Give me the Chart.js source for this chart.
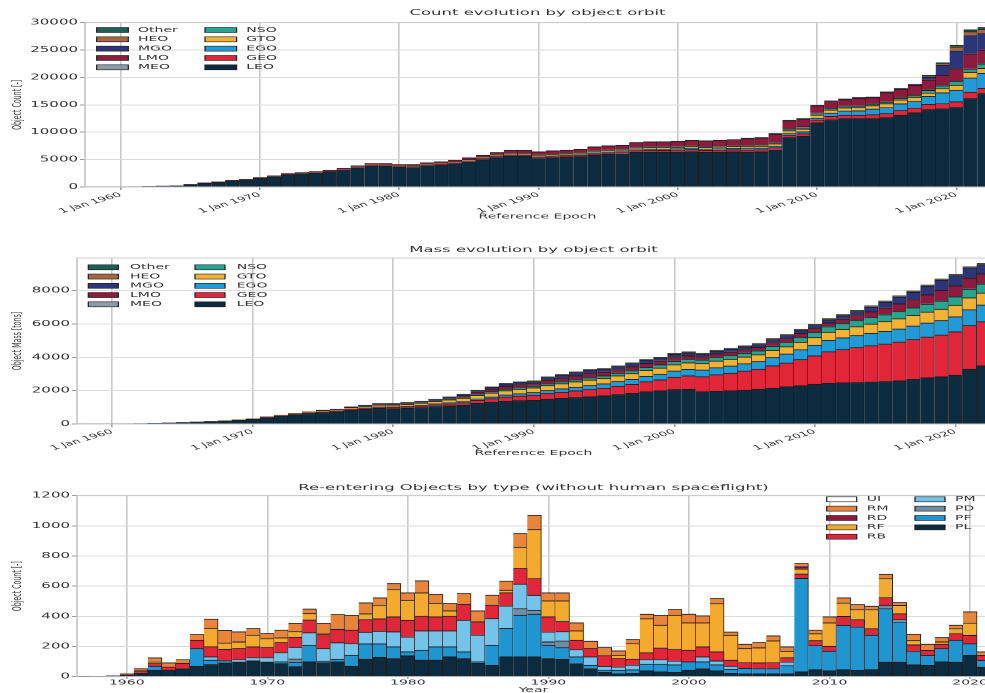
<!DOCTYPE html>
<html>
<head>
<meta charset="utf-8">
<title>Space environment: orbit counts, mass and re-entries</title>
<script src="https://cdn.jsdelivr.net/npm/chart.js@4.4.1/dist/chart.umd.min.js"></script>
<style>
  html, body { margin: 0; padding: 0; background: #ffffff; overflow: hidden; width: 985px; height: 693px; }
  canvas { position: absolute; left: 0; }
</style>
</head>
<body>
<!-- each canvas is drawn at double height and shown at half height -->
<canvas id="countChart" width="1000" height="464" style="top:0px;width:1000px;height:232px"></canvas>
<canvas id="massChart" width="1000" height="464" style="top:232px;width:1000px;height:232px"></canvas>
<canvas id="reentryChart" width="1000" height="480" style="top:464px;width:1000px;height:240px"></canvas>
<script>
// ---------- categories ----------
const orbitYears = [1958,1959,1960,1961,1962,1963,1964,1965,1966,1967,1968,1969,
  1970,1971,1972,1973,1974,1975,1976,1977,1978,1979,
  1980,1981,1982,1983,1984,1985,1986,1987,1988,1989,
  1990,1991,1992,1993,1994,1995,1996,1997,1998,1999,
  2000,2001,2002,2003,2004,2005,2006,2007,2008,2009,
  2010,2011,2012,2013,2014,2015,2016,2017,2018,2019,
  2020,2021,2022];
const reentryYears = [1957,1958,1959,1960,1961,1962,1963,1964,1965,1966,
  1967,1968,1969,1970,1971,1972,1973,1974,1975,1976,
  1977,1978,1979,1980,1981,1982,1983,1984,1985,1986,
  1987,1988,1989,1990,1991,1992,1993,1994,1995,1996,
  1997,1998,1999,2000,2001,2002,2003,2004,2005,2006,
  2007,2008,2009,2010,2011,2012,2013,2014,2015,2016,
  2017,2018,2019,2020,2021];

// ---------- tick labels ----------
const epochTicks = [1960,1970,1980,1990,2000,2010,2020];
const countTicks = [0,5000,10000,15000,20000,25000,30000];
const massTicks = [0,2000,4000,6000,8000];
const reentryTicks = [0,200,400,600,800,1000,1200];

// ---------- object count per orbit class (1958-2022) ----------
const countLEO = [10,20,38,75,130,185,230,455,735,900,1180,1340,
  1620,1900,2290,2440,2600,2800,3130,3510,3880,3850,
  3640,3610,3870,4020,4270,4600,5000,5380,5650,5620,
  5250,5380,5450,5580,5900,6000,6050,6400,6430,6400,
  6430,6520,6350,6400,6450,6400,6450,6800,9070,9310,
  11750,12350,12540,12540,12540,12720,13150,13600,14180,14360,
  14550,16190,17100];
const countGEO = [0,0,0,0,0,0,2,5,10,15,20,25,
  30,35,40,50,60,70,80,90,100,110,
  120,130,140,150,160,170,180,190,200,210,
  220,230,240,250,265,280,295,310,325,340,
  350,360,370,380,390,400,410,430,440,460,
  520,580,600,610,700,730,850,850,950,910,
  1030,1150,950];
const countEGO = [0,0,0,0,0,0,0,0,0,0,0,0,
  0,0,0,0,0,10,15,20,25,30,
  35,40,45,50,55,60,70,80,90,100,
  110,120,130,140,150,160,170,180,190,200,
  210,220,230,240,250,260,270,280,300,330,
  350,600,780,790,1030,1090,1210,1210,1460,1950,
  2130,2610,2730];
const countGTO = [0,0,0,0,0,0,0,0,5,10,15,20,
  25,30,35,40,45,50,60,70,80,90,
  100,110,120,130,140,150,160,170,180,190,
  200,210,220,230,240,250,260,270,280,290,
  300,310,320,330,340,350,360,400,500,520,
  540,560,580,600,610,700,720,780,600,790,
  910,1030,910];
const countNSO = [0,0,0,0,0,0,0,0,0,0,0,0,
  0,0,0,0,0,0,0,0,0,0,
  10,10,15,15,20,20,25,25,30,30,
  35,35,40,40,45,45,50,50,55,55,
  60,60,65,65,70,70,75,80,150,160,
  200,210,220,230,240,260,280,300,480,500,
  680,500,800];
const countMEO = [0,0,0,0,0,0,0,0,0,0,0,0,
  0,0,0,0,0,0,0,0,0,0,
  10,10,15,15,20,20,25,30,35,40,
  40,45,45,50,50,55,55,60,60,65,
  65,70,70,75,75,80,80,90,250,230,
  200,110,110,110,110,110,110,110,110,110,
  110,110,110];
const countLMO = [0,0,2,5,10,15,18,30,40,50,65,75,
  90,105,135,150,155,170,185,210,235,240,
  225,230,235,250,265,340,380,455,575,570,
  595,620,635,650,720,760,790,890,940,950,
  985,1040,1055,1090,1125,1300,1330,1620,1420,1420,
  1300,1250,1150,1370,1100,1650,1550,1750,1770,1830,
  2250,2740,2430];
const countMGO = [0,0,0,0,0,0,0,0,0,0,0,0,
  0,0,0,0,0,0,0,0,0,0,
  0,0,0,0,0,0,0,0,0,0,
  0,0,0,0,0,0,0,0,0,0,
  0,0,0,0,0,40,45,50,50,55,
  60,60,60,60,70,80,90,130,500,1820,
  3220,3350,3040];
const countHEO = [0,0,0,0,0,0,0,0,0,0,0,0,
  0,0,0,0,0,0,0,0,0,0,
  0,0,0,0,0,0,0,0,0,0,
  0,0,0,0,0,0,0,0,0,0,
  0,0,0,0,0,30,30,30,30,35,
  30,30,40,40,40,40,40,50,300,300,
  720,700,750];
const countOther = [0,0,0,0,0,0,0,0,0,0,0,0,
  0,0,0,0,0,0,0,0,0,0,
  0,0,0,0,0,0,0,0,0,0,
  0,0,0,0,0,0,0,0,0,0,
  0,0,0,0,0,20,20,20,20,20,
  20,20,20,20,20,20,20,30,100,130,
  330,350,340];

// ---------- object mass per orbit class in tons (1958-2022) ----------
const massLEO = [2,5,10,20,35,50,68,97,120,155,190,235,
  290,390,480,560,640,700,740,840,900,950,
  930,950,1000,1060,1100,1140,1250,1320,1380,1420,
  1440,1500,1550,1600,1650,1700,1780,1850,1950,2000,
  2080,2100,1950,1970,2000,2040,2100,2150,2250,2300,
  2400,2450,2480,2500,2530,2560,2600,2700,2780,2850,
  2940,3300,3500];
const massGEO = [0,0,0,0,0,0,0,0,0,0,0,0,
  5,10,15,20,25,35,40,50,60,70,
  80,90,100,110,130,150,180,210,250,270,
  300,340,370,400,430,460,500,540,600,660,
  740,800,900,1000,1060,1150,1200,1350,1420,1580,
  1700,1900,2000,2100,2180,2250,2330,2380,2450,2500,
  2600,2620,2650];
const massEGO = [0,0,0,0,0,0,0,0,0,0,0,0,
  0,0,0,0,0,5,10,15,20,25,
  30,35,40,50,60,70,85,100,120,140,
  160,180,200,220,240,260,280,300,320,340,
  370,390,400,420,430,440,460,500,540,590,
  640,680,700,720,740,760,780,810,840,870,
  900,950,1000];
const massGTO = [0,0,0,0,0,0,0,0,5,10,12,15,
  20,25,30,40,50,60,60,80,90,110,
  110,120,130,150,170,200,220,240,260,270,
  280,300,310,320,330,330,340,350,360,370,
  380,390,390,400,410,400,410,430,440,450,
  460,490,510,530,560,590,620,640,660,680,
  700,710,720];
const massNSO = [0,0,0,0,0,0,0,0,0,0,0,0,
  0,0,0,0,0,0,0,0,5,10,
  15,20,25,30,40,50,60,70,80,90,
  100,110,120,130,140,150,160,170,180,190,
  200,205,210,215,220,220,230,240,255,280,
  300,330,350,370,390,410,430,450,470,490,
  500,520,540];
const massMEO = [0,0,0,0,0,0,0,0,0,0,0,0,
  0,0,0,0,0,0,0,0,5,5,
  5,5,5,5,5,5,5,5,5,5,
  10,10,10,10,10,10,10,10,10,10,
  15,15,15,15,15,15,15,15,15,15,
  20,20,20,20,20,20,20,20,20,20,
  20,20,20];
const massLMO = [0,0,0,0,0,0,2,3,5,5,8,10,
  10,10,10,15,20,20,25,25,25,30,
  25,30,30,40,65,95,125,155,180,180,
  150,200,210,230,240,215,215,230,230,225,
  220,205,190,200,200,210,200,220,220,240,
  220,215,245,285,325,385,445,475,545,625,
  640,640,590];
const massMGO = [0,0,0,0,0,0,0,0,0,0,0,0,
  0,0,0,0,0,10,15,20,25,30,
  30,35,35,40,55,75,100,125,150,150,
  125,165,175,195,205,180,180,195,195,190,
  190,180,150,165,170,170,170,180,185,190,
  185,180,200,240,280,340,400,440,510,600,
  615,615,555];
const massHEO = [0,0,0,0,0,0,0,0,0,0,0,0,
  5,5,5,5,5,5,5,5,5,5,
  10,10,10,10,10,10,10,10,10,10,
  20,20,20,20,20,20,20,20,20,20,
  30,30,30,30,30,30,30,30,30,30,
  40,40,40,40,40,40,40,40,40,40,
  40,40,40];
const massOther = [0,0,0,0,0,0,0,0,0,0,0,0,
  0,0,0,0,0,5,5,5,5,5,
  5,5,5,5,5,5,5,5,5,5,
  15,15,15,15,15,15,15,15,15,15,
  25,25,25,25,25,25,25,25,25,25,
  35,35,35,35,35,35,35,35,35,35,
  35,35,35];

// ---------- re-entering objects per type (1957-2021) ----------
const rePL = [2,3,6,12,25,44,44,55,71,82, 90,99,106,99,89,68,100,95,100,71,
  119,130,122,140,111,111,133,122,90,77, 133,133,133,122,116,88,55,30,22,25,
  40,35,30,44,55,40,25,20,20,20, 20,33,48,40,48,44,48,99,99,80, 77,100,99,143,66];
const rePF = [0,0,0,0,0,27,0,0,117,29, 10,0,0,0,11,29,110,10,17,73,
  100,89,77,26,66,88,66,44,10,133, 189,276,283,88,78,45,22,15,22,22,
  45,50,50,56,45,40,26,37,35,35, 55,620,160,130,294,287,228,354,265,88, 66,88,144,77,44];
const rePD = [0,0,0,0,0,0,0,0,0,0, 0,0,0,0,0,22,0,0,0,0,
  0,0,0,0,0,0,0,0,0,0, 0,44,26,22,44,0,0,0,0,0,
  0,0,0,0,0,0,0,0,0,0, 0,0,0,0,0,0,0,22,0,0, 0,0,0,0,0];
const rePM = [0,0,0,0,0,0,0,0,0,22, 10,16,22,29,61,78,83,83,110,77,
  77,84,100,99,128,106,106,210,177,177, 148,162,99,66,62,48,56,25,22,31,
  30,30,25,0,33,26,20,0,0,0, 24,0,0,0,0,0,0,0,15,0, 0,0,0,0,0];
const reRB = [0,0,2,4,15,18,22,35,55,67, 73,73,71,67,67,66,84,93,88,89,
  84,82,99,111,98,93,98,106,88,89, 88,104,111,100,67,62,55,71,56,40,
  45,77,77,77,66,60,40,38,38,40, 29,29,33,33,59,49,44,51,40,44, 33,29,44,55,33];
const reRF = [0,0,0,0,0,10,0,0,0,121, 42,44,78,59,31,37,43,8,0,0,
  38,88,181,132,154,89,35,0,0,0, 17,139,325,106,137,62,0,0,22,103,
  226,151,227,181,159,320,165,93,100,144, 42,33,45,155,89,66,126,126,55,29, 0,15,33,82,0];
const reRD = [0,0,0,0,0,0,0,0,0,0, 0,0,0,0,0,0,0,0,0,0,
  0,0,0,0,0,0,0,0,0,0, 0,0,0,0,0,0,0,0,0,0,
  0,0,0,0,0,0,0,0,0,0, 0,15,0,0,0,0,0,0,0,0, 0,0,0,0,0];
const reRM = [0,0,0,4,15,27,27,25,38,62, 84,67,44,34,51,56,30,67,99,99,
  73,51,40,49,80,61,49,71,73,66, 60,93,95,53,53,53,49,54,29,27,
  30,66,38,58,47,34,22,29,35,33, 29,22,24,40,34,34,23,29,19,42, 41,29,23,74,23];
const reUI = [0,0,0,0,0,0,0,0,0,0, 0,0,0,0,0,0,0,0,0,0,
  0,0,0,0,0,0,0,0,0,0, 0,0,0,0,0,0,0,0,0,0,
  0,0,0,0,0,0,0,0,0,0, 0,0,0,0,0,0,0,0,0,0, 0,0,0,0,0];

// ---------- colours ----------
const orbitColors = {
  LEO: '#0d2b3e', GEO: '#e1263a', EGO: '#209bd7', GTO: '#f2b233', NSO: '#26a68e',
  MEO: '#8d9ba6', LMO: '#8e1a3d', MGO: '#2c3577', HEO: '#a8653f', Other: '#1d5f52'
};
const typeColors = {
  PL: '#0d2b3e', PF: '#1f95d2', PD: '#6f8da3', PM: '#74c3ea', RB: '#e1263a',
  RF: '#f4a92f', RD: '#8e1a3d', RM: '#e8853a', UI: '#ffffff'
};

Chart.defaults.font.family = "'DejaVu Sans', Verdana, sans-serif";
Chart.defaults.color = '#333333';

const EDGE = '#1c1c1c';
function barSet(label, data, color) {
  return {
    label: label, data: data, backgroundColor: color,
    borderColor: EDGE,
    borderWidth: { top: 1.8, right: 1, bottom: 0, left: 0 },
    borderSkipped: false,
    barPercentage: 1, categoryPercentage: 1
  };
}

// light grey box round the plotting area
const framePlugin = {
  id: 'frame',
  afterDatasetsDraw(chart) {
    const { ctx, chartArea: a } = chart;
    ctx.save();
    ctx.strokeStyle = '#c4c4c4';
    ctx.lineWidth = 1.6;
    ctx.strokeRect(a.left, a.top, a.right - a.left, a.bottom - a.top);
    ctx.restore();
  }
};

// two-column legend drawn inside the plotting area
function columnLegend(cfg) {
  return {
    id: 'columnLegend',
    afterDatasetsDraw(chart) {
      const { ctx, chartArea: a } = chart;
      const byLabel = {};
      chart.data.datasets.forEach(d => { byLabel[d.label] = d; });
      ctx.save();
      ctx.font = cfg.fontSize + "px 'DejaVu Sans', Verdana, sans-serif";
      ctx.textBaseline = 'middle';
      ctx.textAlign = 'left';
      const x0 = cfg.fromRight ? a.right - cfg.x : a.left + cfg.x;
      const y0 = a.top + cfg.y;
      cfg.columns.forEach((col, ci) => {
        col.forEach((lab, ri) => {
          const d = byLabel[lab];
          const x = x0 + ci * cfg.colGap;
          const y = y0 + ri * cfg.rowGap;
          ctx.fillStyle = d.backgroundColor;
          ctx.fillRect(x, y - cfg.boxH / 2, cfg.boxW, cfg.boxH);
          ctx.strokeStyle = EDGE;
          ctx.lineWidth = 1.2;
          ctx.strokeRect(x, y - cfg.boxH / 2, cfg.boxW, cfg.boxH);
          ctx.fillStyle = '#333333';
          ctx.fillText(lab, x + cfg.textDx, y);
        });
      });
      ctx.restore();
    }
  };
}

function makeChart(id, cfg) {
  return new Chart(document.getElementById(id), {
    type: 'bar',
    data: { labels: cfg.labels, datasets: cfg.datasets },
    options: {
      responsive: false,
      animation: false,
      events: [],
      layout: { padding: { left: 0, right: 10, top: 0, bottom: 0 } },
      plugins: {
        legend: { display: false },
        tooltip: { enabled: false },
        title: {
          display: true, text: cfg.title, fullSize: false, color: '#333333',
          font: { size: 16.5, weight: 'normal' }, padding: cfg.titlePad
        }
      },
      scales: {
        x: {
          type: 'linear', min: cfg.xMin, max: cfg.xMax, stacked: true, offset: false,
          afterBuildTicks: s => { s.ticks = epochTicks.map(v => ({ value: v })); },
          afterFit: s => { s.height = cfg.xHeight; },
          ticks: {
            callback: cfg.xLabel, autoSkip: false,
            minRotation: cfg.rotation, maxRotation: cfg.rotation,
            font: { size: cfg.xFont }, color: '#333333', padding: cfg.xPad
          },
          grid: { offset: false, color: '#c9c9c9', lineWidth: 1.6, tickLength: cfg.xTick, tickColor: '#9a9a9a' },
          border: { display: false },
          title: {
            display: true, text: cfg.xTitle, color: '#333333',
            font: { size: 14 }, padding: { top: 0, bottom: cfg.xTitleBottom }
          }
        },
        y: {
          min: 0, max: cfg.yMax, stacked: true,
          afterBuildTicks: s => { s.ticks = cfg.yTicks.map(v => ({ value: v })); },
          afterFit: s => { s.width = cfg.yWidth; },
          ticks: { callback: v => String(v), font: { size: 15 }, color: '#333333', padding: 2 },
          grid: { color: '#dcdcdc', lineWidth: 2, tickLength: 5, tickColor: '#9a9a9a' },
          border: { display: false },
          title: {
            display: true, text: cfg.yTitle, color: '#333333',
            font: { size: 12.5 }, padding: { top: 10.5, bottom: 0 }
          }
        }
      }
    },
    plugins: [framePlugin, columnLegend(cfg.legend)]
  });
}

// ---------- count evolution ----------
makeChart('countChart', {
  labels: orbitYears,
  title: 'Count evolution by object orbit',
  titlePad: { top: 15.8, bottom: 9.8 },
  datasets: [
    barSet('LEO', countLEO, orbitColors.LEO),
    barSet('GEO', countGEO, orbitColors.GEO),
    barSet('EGO', countEGO, orbitColors.EGO),
    barSet('GTO', countGTO, orbitColors.GTO),
    barSet('NSO', countNSO, orbitColors.NSO),
    barSet('MEO', countMEO, orbitColors.MEO),
    barSet('LMO', countLMO, orbitColors.LMO),
    barSet('MGO', countMGO, orbitColors.MGO),
    barSet('HEO', countHEO, orbitColors.HEO),
    barSet('Other', countOther, orbitColors.Other)
  ],
  xMin: 1957.44, xMax: 2022.4, xHeight: 90, xTitleBottom: 22,
  xLabel: v => '1 Jan ' + v, rotation: 30, xFont: 13, xPad: 2, xTick: 6,
  xTitle: 'Reference Epoch',
  yMax: 30000, yTicks: countTicks, yWidth: 85, yTitle: 'Object Count [-]',
  legend: {
    columns: [['Other', 'HEO', 'MGO', 'LMO', 'MEO'], ['NSO', 'GTO', 'EGO', 'GEO', 'LEO']],
    x: 11.7, y: 14.6, rowGap: 18.65, colGap: 108.3, boxW: 31.6, boxH: 10, textDx: 41.3, fontSize: 14
  }
});

// ---------- mass evolution ----------
makeChart('massChart', {
  labels: orbitYears,
  title: 'Mass evolution by object orbit',
  titlePad: { top: 26.1, bottom: 6.1 },
  datasets: [
    barSet('LEO', massLEO, orbitColors.LEO),
    barSet('GEO', massGEO, orbitColors.GEO),
    barSet('EGO', massEGO, orbitColors.EGO),
    barSet('GTO', massGTO, orbitColors.GTO),
    barSet('NSO', massNSO, orbitColors.NSO),
    barSet('MEO', massMEO, orbitColors.MEO),
    barSet('LMO', massLMO, orbitColors.LMO),
    barSet('MGO', massMGO, orbitColors.MGO),
    barSet('HEO', massHEO, orbitColors.HEO),
    barSet('Other', massOther, orbitColors.Other)
  ],
  xMin: 1957.5, xMax: 2022.45, xHeight: 80, xTitleBottom: 13,
  xLabel: v => '1 Jan ' + v, rotation: 30, xFont: 13, xPad: 2, xTick: 6,
  xTitle: 'Reference Epoch',
  yMax: 9960, yTicks: massTicks, yWidth: 77, yTitle: 'Object Mass [tons]',
  legend: {
    columns: [['Other', 'HEO', 'MGO', 'LMO', 'MEO'], ['NSO', 'GTO', 'EGO', 'GEO', 'LEO']],
    x: 11.3, y: 18.6, rowGap: 18.5, colGap: 106.7, boxW: 30, boxH: 10, textDx: 41.7, fontSize: 14
  }
});

// ---------- re-entering objects ----------
makeChart('reentryChart', {
  labels: reentryYears,
  title: 'Re-entering Objects by type (without human spaceflight)',
  titlePad: { top: 38.1, bottom: 5.5 },
  datasets: [
    barSet('PL', rePL, typeColors.PL),
    barSet('PF', rePF, typeColors.PF),
    barSet('PD', rePD, typeColors.PD),
    barSet('PM', rePM, typeColors.PM),
    barSet('RB', reRB, typeColors.RB),
    barSet('RF', reRF, typeColors.RF),
    barSet('RD', reRD, typeColors.RD),
    barSet('RM', reRM, typeColors.RM),
    barSet('UI', reUI, typeColors.UI)
  ],
  xMin: 1956.46, xMax: 2021.42, xHeight: 54.6, xTitleBottom: 19.6,
  xLabel: v => String(v), rotation: 0, xFont: 14, xPad: 0, xTick: 4,
  xTitle: 'Year',
  yMax: 1200, yTicks: reentryTicks, yWidth: 77, yTitle: 'Object Count [-]',
  legend: {
    columns: [['UI', 'RM', 'RD', 'RF', 'RB'], ['PM', 'PD', 'PF', 'PL']],
    fromRight: true, x: 163.3, y: 7.2, rowGap: 18.7, colGap: 88.3, boxW: 30, boxH: 10, textDx: 40, fontSize: 14
  }
});
</script>
</body>
</html>
